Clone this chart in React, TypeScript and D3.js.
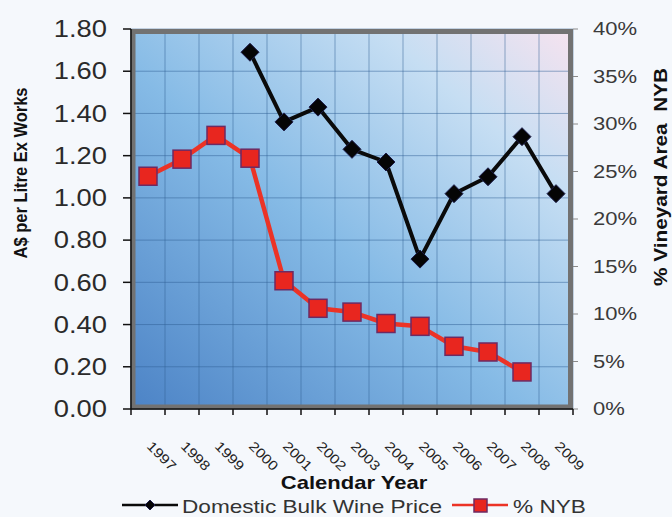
import React from "react";
import * as d3 from "d3";

// Calendar years on the x axis
const years = ["1997", "1998", "1999", "2000", "2001", "2002", "2003", "2004", "2005", "2006", "2007", "2008", "2009"];

// Domestic bulk wine price, A$ per litre ex works
const priceYears = ["2000", "2001", "2002", "2003", "2004", "2005", "2006", "2007", "2008", "2009"];
const bulkPrice = [1.69, 1.36, 1.43, 1.23, 1.17, 0.71, 1.02, 1.1, 1.29, 1.02];

// Share of vineyard area not yet bearing (%)
const nybYears = ["1997", "1998", "1999", "2000", "2001", "2002", "2003", "2004", "2005", "2006", "2007", "2008"];
const nybShare = [24.5, 26.3, 28.8, 26.4, 13.5, 10.6, 10.2, 9.0, 8.7, 6.6, 6.0, 3.9];

const priceTicks = [0, 0.2, 0.4, 0.6, 0.8, 1.0, 1.2, 1.4, 1.6, 1.8];
const shareTicks = [0, 5, 10, 15, 20, 25, 30, 35, 40];

const W = 672;
const H = 517;
const FONT = "'Liberation Sans', Arial, Helvetica, sans-serif";
const SX = 1.19; // horizontal widening applied to labels

const plot = { left: 131, right: 573, top: 29, bottom: 409 };

export default function App() {
  const x = d3.scaleBand<string>().domain(years).range([plot.left, plot.right]).padding(0);
  const yPrice = d3.scaleLinear().domain([0, 1.8]).range([plot.bottom, plot.top]);
  const yShare = d3.scaleLinear().domain([0, 40]).range([plot.bottom, plot.top]);
  const cx = (yr: string) => (x(yr) ?? 0) + x.bandwidth() / 2;

  const priceLine = d3
    .line<number>()
    .x((_, i) => cx(priceYears[i]))
    .y((d) => yPrice(d))(bulkPrice) as string;

  const shareLine = d3
    .line<number>()
    .x((_, i) => cx(nybYears[i]))
    .y((d) => yShare(d))(nybShare) as string;

  const boundaries = years.map((yr) => x(yr) as number).concat([plot.right]);
  const pw = plot.right - plot.left;
  const ph = plot.bottom - plot.top;

  const diamond = (px: number, py: number, r: number) =>
    `M${px},${py - r}L${px + r},${py}L${px},${py + r}L${px - r},${py}Z`;

  return (
    <svg
      width={W}
      height={H}
      style={{ position: "absolute", left: 0, top: 0, fontFamily: FONT }}
    >
      <defs>
        <linearGradient id="plotFill" x1="0" y1="1" x2="1" y2="0">
          <stop offset="0" stopColor="#4c83c6" />
          <stop offset="0.45" stopColor="#86bbe6" />
          <stop offset="0.78" stopColor="#c6def3" />
          <stop offset="1" stopColor="#f7e3ef" />
        </linearGradient>
      </defs>

      <rect x={0} y={0} width={W} height={H} fill="#f5f8fc" />

      {/* plot area */}
      <rect x={plot.left} y={plot.top} width={pw} height={ph} fill="url(#plotFill)" />

      {/* gridlines */}
      <g stroke="#2f5f96" strokeOpacity={0.5} strokeWidth={1}>
        {priceTicks.map((t) => (
          <line key={"h" + t} x1={plot.left} x2={plot.right} y1={yPrice(t)} y2={yPrice(t)} />
        ))}
        {boundaries.map((b, i) => (
          <line key={"v" + i} x1={b} x2={b} y1={plot.top} y2={plot.bottom} />
        ))}
      </g>

      {/* frame */}
      <rect
        x={plot.left + 2}
        y={plot.top + 2.5}
        width={pw - 4.5}
        height={ph - 4.5}
        fill="none"
        stroke="#727272"
        strokeWidth={5}
      />

      {/* left axis */}
      <line x1={plot.left} x2={plot.left} y1={plot.top} y2={plot.bottom} stroke="#111" strokeWidth={1.5} />
      {priceTicks.map((t) => (
        <g key={"lt" + t}>
          <line x1={plot.left - 8} x2={plot.left} y1={yPrice(t)} y2={yPrice(t)} stroke="#111" strokeWidth={1.5} />
          <text
            transform={`translate(107,${yPrice(t)}) scale(${SX},1)`}
            textAnchor="end"
            dominantBaseline="central"
            fontSize={23}
            fill="#2a2a2a"
          >
            {t.toFixed(2)}
          </text>
        </g>
      ))}

      {/* right axis */}
      {shareTicks.map((t) => (
        <g key={"rt" + t}>
          <line x1={plot.right} x2={plot.right + 5} y1={yShare(t)} y2={yShare(t)} stroke="#8a8a8a" strokeWidth={1} />
          <text
            transform={`translate(593,${yShare(t)}) scale(${SX},1)`}
            dominantBaseline="central"
            fontSize={18.5}
            fill="#3a3a3a"
          >
            {t + "%"}
          </text>
        </g>
      ))}

      {/* bottom axis */}
      <line x1={plot.left} x2={plot.right} y1={plot.bottom} y2={plot.bottom} stroke="#111" strokeWidth={1.5} />
      {boundaries.map((b, i) => (
        <line key={"bt" + i} x1={b} x2={b} y1={plot.bottom} y2={plot.bottom + 6} stroke="#111" strokeWidth={1.5} />
      ))}
      {years.map((yr) => (
        <text
          key={"yl" + yr}
          transform={`translate(${cx(yr) - 2},447) rotate(45)`}
          fontSize={13.5}
          fill="#222"
          textLength={35}
          lengthAdjust="spacingAndGlyphs"
        >
          {yr}
        </text>
      ))}

      {/* axis titles */}
      <text
        transform={`translate(354,489) scale(${SX},1)`}
        textAnchor="middle"
        fontSize={18.5}
        fontWeight="bold"
        fill="#111"
      >
        Calendar Year
      </text>
      <text
        transform={`translate(27,173) scale(${SX},1) rotate(-90)`}
        textAnchor="middle"
        fontSize={15.5}
        fontWeight="bold"
        fill="#111"
        textLength={171}
        lengthAdjust="spacingAndGlyphs"
      >
        A$ per Litre Ex Works
      </text>
      <text
        transform={`translate(667,177) scale(${SX},1) rotate(-90)`}
        textAnchor="middle"
        fontSize={15.5}
        fontWeight="bold"
        fill="#111"
        textLength={218}
        lengthAdjust="spacingAndGlyphs"
        style={{ whiteSpace: "pre" }}
      >
        {"% Vineyard Area  NYB"}
      </text>

      {/* % NYB series */}
      <path d={shareLine} fill="none" stroke="#ec3326" strokeWidth={4.5} strokeLinejoin="round" />
      {nybShare.map((v, i) => (
        <rect
          key={"sq" + i}
          x={cx(nybYears[i]) - 9}
          y={yShare(v) - 9}
          width={18}
          height={18}
          fill="#e8261f"
          stroke="#6d2a63"
          strokeWidth={1.5}
        />
      ))}

      {/* Domestic bulk wine price series */}
      <path d={priceLine} fill="none" stroke="#0a0a0a" strokeWidth={4} strokeLinejoin="round" />
      {bulkPrice.map((v, i) => (
        <path
          key={"dm" + i}
          d={diamond(cx(priceYears[i]), yPrice(v), 9)}
          fill="#050505"
          stroke="#1c1c4a"
          strokeWidth={1}
        />
      ))}

      {/* legend */}
      <line x1={122} x2={178} y1={505} y2={505} stroke="#0a0a0a" strokeWidth={2.5} />
      <path d={diamond(150, 505, 5)} fill="#050505" stroke="#1c1c4a" strokeWidth={1} />
      <text transform={`translate(182,513) scale(${SX},1)`} fontSize={19} fill="#333">
        Domestic Bulk Wine Price
      </text>
      <line x1={452} x2={508} y1={505} y2={505} stroke="#ec3326" strokeWidth={2.5} />
      <rect x={474} y={499} width={13} height={13} fill="#e8261f" stroke="#6d2a63" strokeWidth={1.5} />
      <text transform={`translate(513,513) scale(${SX},1)`} fontSize={19} fill="#333">
        % NYB
      </text>
    </svg>
  );
}
